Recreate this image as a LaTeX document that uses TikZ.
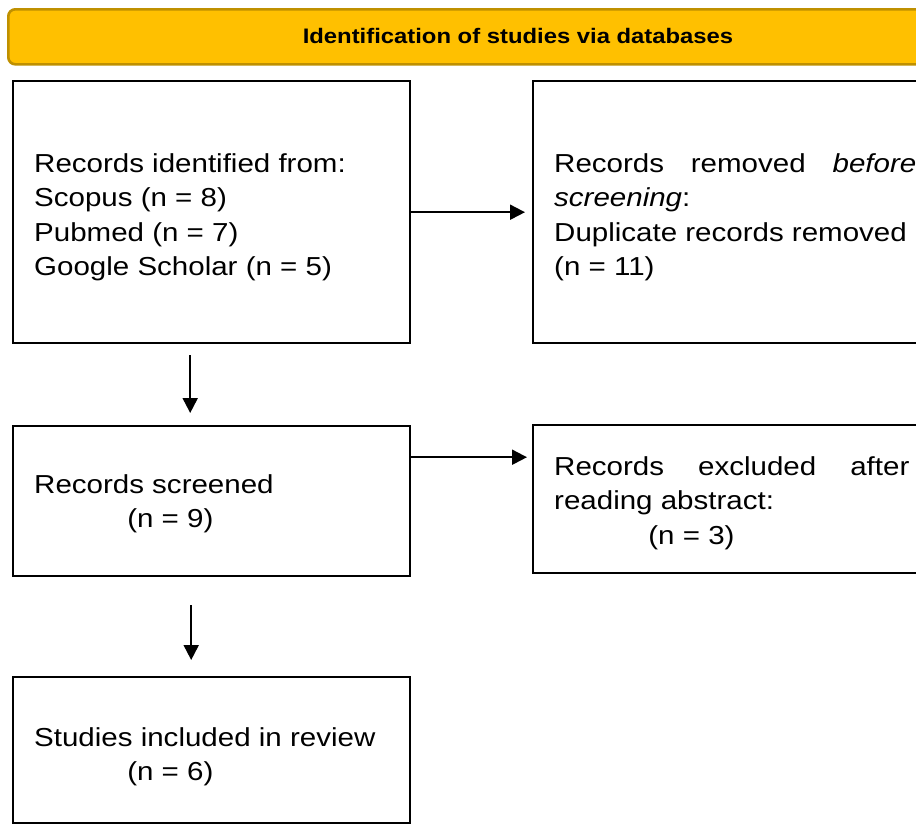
\documentclass[tikz,border=0pt]{standalone}
\usepackage{fontspec}
\setmainfont{Liberation Sans}
\usepackage{graphicx}
\usetikzlibrary{arrows.meta,calc}
\definecolor{hdrfill}{HTML}{FFC000}
\definecolor{hdrline}{HTML}{BF9000}
\newcommand{\bxtext}[2]{\scalebox{1.135}[1]{\parbox[t]{#1}{\fontsize{26pt}{34.5pt}\selectfont #2}}}
\tikzset{
  boxnode/.style={draw=black, line width=2.4pt, rectangle, inner sep=0pt, anchor=north west},
  hdrnode/.style={draw=hdrline, fill=hdrfill, line width=2.6pt, rectangle, rounded corners=7pt, inner sep=0pt, anchor=north west},
  txt/.style={inner sep=0pt, anchor=base west, align=left},
  arr/.style={line width=2pt, -{Triangle[length=15pt,width=15pt]}},
}
\begin{document}
\begin{tikzpicture}[x=1pt,y=-1pt]
\useasboundingbox (0,0) rectangle (916,823);
\clip (0,0) rectangle (916,823);
% header
\node[hdrnode, minimum width=1030pt, minimum height=55pt] (hdr) at (7,8) {};
\node[inner sep=0pt, anchor=base] (hdrtxt) at (518,43) {\scalebox{1.135}[1]{\fontsize{21pt}{25pt}\selectfont\bfseries Identification of studies via databases}};
% boxes
\node[boxnode, minimum width=397pt, minimum height=262pt] (b1) at (12,80) {};
\node[boxnode, minimum width=420pt, minimum height=262pt] (b2) at (532,80) {};
\node[boxnode, minimum width=397pt, minimum height=150pt] (b3) at (12,425) {};
\node[boxnode, minimum width=420pt, minimum height=148pt] (b4) at (532,424) {};
\node[boxnode, minimum width=397pt, minimum height=146pt] (b5) at (12,676) {};
% texts
\node[txt] (t1) at (34,172) {\bxtext{340pt}{Records identified from:\\ Scopus (n = 8)\\ Pubmed (n = 7)\\ Google Scholar (n = 5)}};
\node[txt] (t2) at (554,172) {\bxtext{319pt}{\makebox[\linewidth][s]{Records removed \textit{before}}\\ \textit{screening}:\\ Duplicate records removed\\ (n = 11)}};
\node[txt] (t3) at (34,493) {\bxtext{330pt}{Records screened\\ \hspace*{82pt}(n = 9)}};
\node[txt] (t4) at (554,475) {\bxtext{313pt}{\makebox[\linewidth][s]{Records excluded after}\\ reading abstract:\\ \hspace*{83pt}(n = 3)}};
\node[txt] (t5) at (34,746) {\bxtext{330pt}{Studies included in review\\ \hspace*{82pt}(n = 6)}};
% connectors
\draw[arr, shorten >=7pt] (b1.east) -- (b1.east -| b2.west);
\draw[arr, shorten >=5pt] ([yshift=44pt]b3.east) -- ([yshift=44pt]b3.east -| b4.west);
\draw[arr, shorten <=11pt, shorten >=12pt] ([xshift=-21.5pt]b1.south) -- ([xshift=-21.5pt]b3.north);
\draw[arr, shorten <=28pt, shorten >=16pt] ([xshift=-20.5pt]b3.south) -- ([xshift=-20.5pt]b5.north);
\end{tikzpicture}
\end{document}
